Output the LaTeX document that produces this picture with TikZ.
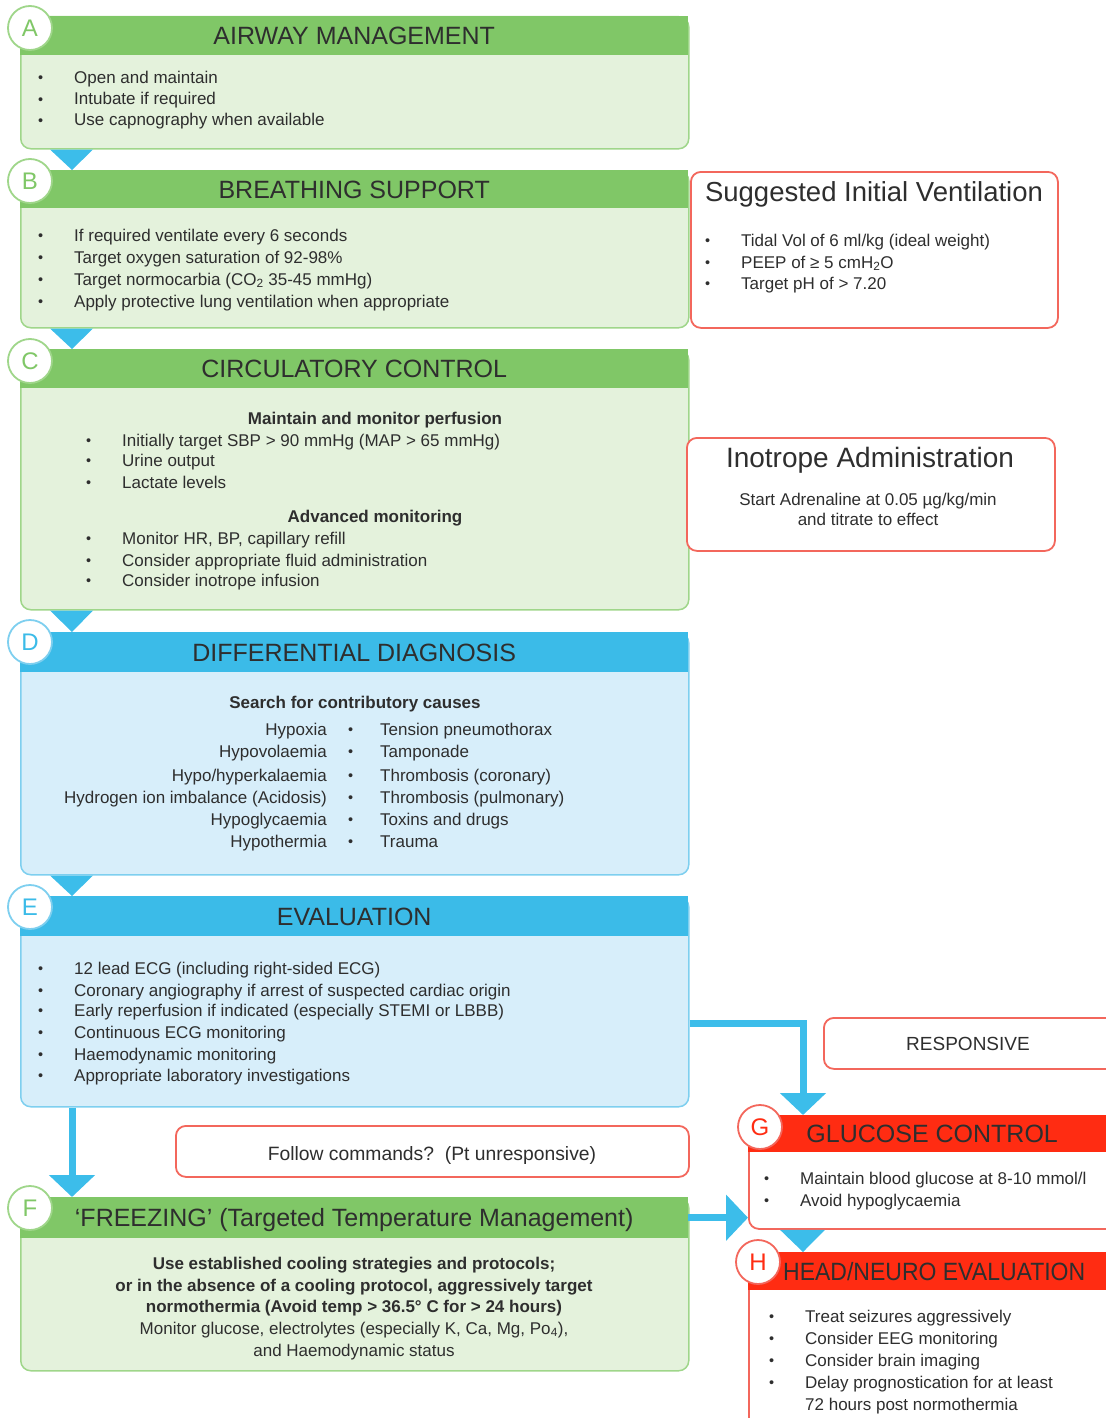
\documentclass[tikz,border=0pt]{standalone}
\usepackage{fontspec}
\setmainfont{Liberation Sans}
\usepackage{graphicx}
\usetikzlibrary{arrows.meta,calc}
\definecolor{ghead}{HTML}{80C767}
\definecolor{gbody}{HTML}{E4F2DC}
\definecolor{gline}{HTML}{9FD68A}
\definecolor{bhead}{HTML}{3BBBE8}
\definecolor{bbody}{HTML}{D7EEFA}
\definecolor{bline}{HTML}{7ECFEF}
\definecolor{rhead}{HTML}{FF2C12}
\definecolor{rline}{HTML}{F3675C}
\definecolor{txt}{HTML}{2E2E2E}
\definecolor{flow}{HTML}{3CBDEA}
\newcommand\myfs[1]{\fontsize{#1}{#1}\selectfont}
\newcommand\mybul[1]{\makebox[#1][l]{\raisebox{1pt}{\scalebox{0.85}{\textbullet}}}}
\newcommand\li[4]{\node[li] (#1) at (#2,{#3+6}) {\mybul{36pt}#4};}
\begin{document}
\begin{tikzpicture}[x=1pt,y=-1pt,
  box/.style={anchor=north west, inner sep=0pt, line width=1.5pt, rounded corners=10pt},
  gbox/.style={box, draw=gline, fill=gbody},
  bbox/.style={box, draw=bline, fill=bbody},
  rbox/.style={box, draw=rline, fill=white, line width=1.8pt},
  hd/.style={anchor=north west, inner sep=0pt, text=txt, font=\myfs{25}, text height=18pt, text depth=0pt},
  ghd/.style={hd, fill=ghead},
  bhd/.style={hd, fill=bhead},
  rhd/.style={hd, fill=rhead},
  circ/.style={circle, fill=white, line width=1.8pt, minimum size=44pt, inner sep=0pt, font=\myfs{24}},
  gcirc/.style={circ, draw=gline, text=ghead},
  bcirc/.style={circ, draw=bline, text=bhead},
  rcirc/.style={circ, draw=rline, text=rhead},
  li/.style={anchor=base west, inner sep=0pt, text=txt, font=\myfs{17}},
  lir/.style={anchor=base east, inner sep=0pt, text=txt, font=\myfs{17}},
  ct/.style={anchor=base, inner sep=0pt, text=txt, font=\myfs{17}},
  ctb/.style={anchor=base, inner sep=0pt, text=txt, font=\myfs{17}\bfseries},
  tri/.style={fill=flow},
  conn/.style={draw=flow, line width=7pt, -{Triangle[width=45pt,length=22pt]}}
]
\useasboundingbox (0,0) rectangle (1105,1418);

% ---------- A ----------
\node[gbox, minimum width=668pt, minimum height=132pt] (A) at (20,16) {};
\node[ghd, minimum width=668pt, minimum height=39pt] (Ah) at (20,16) {AIRWAY MANAGEMENT};
\node[gcirc] (cA) at (30,28) {A};
\li{a1}{38}{78}{Open and maintain}
\li{a2}{38}{99}{Intubate if required}
\li{a3}{38}{120}{Use capnography when available}

% ---------- B ----------
\node[gbox, minimum width=668pt, minimum height=157pt] (B) at (20,170) {};
\node[ghd, minimum width=668pt, minimum height=38pt] (Bh) at (20,170) {BREATHING SUPPORT};
\node[gcirc] (cB) at (30,181) {B};
\li{b1}{38}{235}{If required ventilate every 6 seconds}
\li{b2}{38}{257}{Target oxygen saturation of 92-98\%}
\li{b3}{38}{279}{Target normocarbia (CO\textsubscript{2} 35-45 mmHg)}
\li{b4}{38}{301}{Apply protective lung ventilation when appropriate}

% ---------- C ----------
\node[gbox, minimum width=668pt, minimum height=260pt] (C) at (20,349) {};
\node[ghd, minimum width=668pt, minimum height=39pt] (Ch) at (20,349) {CIRCULATORY CONTROL};
\node[gcirc] (cC) at (30,361) {C};
\node[ctb] (c0) at (375,424) {Maintain and monitor perfusion};
\li{c1}{86}{440}{Initially target SBP > 90 mmHg (MAP > 65 mmHg)}
\li{c2}{86}{460}{Urine output}
\li{c3}{86}{482}{Lactate levels}
\node[ctb] (c4) at (375,522) {Advanced monitoring};
\li{c5}{86}{538}{Monitor HR, BP, capillary refill}
\li{c6}{86}{560}{Consider appropriate fluid administration}
\li{c7}{86}{580}{Consider inotrope infusion}

% ---------- D ----------
\node[bbox, minimum width=668pt, minimum height=242pt] (D) at (20,632) {};
\node[bhd, minimum width=668pt, minimum height=40pt] (Dh) at (20,632) {DIFFERENTIAL DIAGNOSIS};
\node[bcirc] (cD) at (30,642) {D};
\node[ctb] (d0) at (355,708) {Search for contributory causes};
\node[lir] (dl1) at (327,735) {Hypoxia};
\node[lir] (dl2) at (327,757) {Hypovolaemia};
\node[lir] (dl3) at (327,781) {Hypo/hyperkalaemia};
\node[lir] (dl4) at (327,803) {Hydrogen ion imbalance (Acidosis)};
\node[lir] (dl5) at (327,825) {Hypoglycaemia};
\node[lir] (dl6) at (327,847) {Hypothermia};
\node[li] (dr1) at (348,735) {\mybul{32pt}Tension pneumothorax};
\node[li] (dr2) at (348,757) {\mybul{32pt}Tamponade};
\node[li] (dr3) at (348,781) {\mybul{32pt}Thrombosis (coronary)};
\node[li] (dr4) at (348,803) {\mybul{32pt}Thrombosis (pulmonary)};
\node[li] (dr5) at (348,825) {\mybul{32pt}Toxins and drugs};
\node[li] (dr6) at (348,847) {\mybul{32pt}Trauma};

% ---------- E ----------
\node[bbox, minimum width=668pt, minimum height=210pt] (E) at (20,896) {};
\node[bhd, minimum width=668pt, minimum height=40pt] (Eh) at (20,896) {EVALUATION};
\node[bcirc] (cE) at (30,907) {E};
\li{e1}{38}{968}{12 lead ECG (including right-sided ECG)}
\li{e2}{38}{990}{Coronary angiography if arrest of suspected cardiac origin}
\li{e3}{38}{1010}{Early reperfusion if indicated (especially STEMI or LBBB)}
\li{e4}{38}{1032}{Continuous ECG monitoring}
\li{e5}{38}{1054}{Haemodynamic monitoring}
\li{e6}{38}{1075}{Appropriate laboratory investigations}

% ---------- F ----------
\node[gbox, minimum width=668pt, minimum height=173pt] (F) at (20,1197) {};
\node[ghd, minimum width=668pt, minimum height=41pt] (Fh) at (20,1197) {‘FREEZING’ (Targeted Temperature Management)};
\node[gcirc] (cF) at (30,1208) {F};
\node[ctb] (f1) at (354,1269) {Use established cooling strategies and protocols;};
\node[ctb] (f2) at (354,1291) {or in the absence of a cooling protocol, aggressively target};
\node[ctb] (f3) at (354,1312) {normothermia (Avoid temp > 36.5° C for > 24 hours)};
\node[ct] (f4) at (354,1334) {Monitor glucose, electrolytes (especially K, Ca, Mg, Po\textsubscript{4}),};
\node[ct] (f5) at (354,1356) {and Haemodynamic status};

% ---------- G ----------
\node[rbox, minimum width=380pt, minimum height=113pt] (G) at (748,1115) {};
\node[rhd, minimum width=380pt, minimum height=37pt] (Gh) at (748,1115) {\hspace{-12pt}GLUCOSE CONTROL};
\node[rcirc] (cG) at (760,1127) {G};
\li{g1}{764}{1178}{Maintain blood glucose at 8-10 mmol/l}
\li{g2}{764}{1200}{Avoid hypoglycaemia}

% ---------- H ----------
\node[rbox, minimum width=380pt, minimum height=190pt] (H) at (748,1252) {};
\node[rhd, minimum width=380pt, minimum height=38pt] (Hh) at (748,1252) {\hspace{-8pt}\scalebox{0.92}[1]{HEAD/NEURO EVALUATION}};
\node[rcirc] (cH) at (758,1262) {H};
\li{h1}{769}{1316}{Treat seizures aggressively}
\li{h2}{769}{1338}{Consider EEG monitoring}
\li{h3}{769}{1360}{Consider brain imaging}
\li{h4}{769}{1382}{Delay prognostication for at least}
\node[li] (h5) at (805,1410) {72 hours post normothermia};

% ---------- side boxes ----------
\node[rbox, minimum width=367pt, minimum height=156pt] (SIV) at (690,171) {};
\node[anchor=base, inner sep=0pt, text=txt, font=\myfs{27.5}] (sivt) at (874,201) {Suggested Initial Ventilation};
\li{s1}{705}{240}{Tidal Vol of 6 ml/kg (ideal weight)}
\li{s2}{705}{262}{PEEP of ≥ 5 cmH\textsubscript{2}O}
\li{s3}{705}{283}{Target pH of > 7.20}

\node[rbox, minimum width=368pt, minimum height=113pt] (INO) at (686,437) {};
\node[anchor=base, inner sep=0pt, text=txt, font=\myfs{28}] (inot) at (870,467) {Inotrope Administration};
\node[ct] (ino1) at (868,505) {Start Adrenaline at 0.05 µg/kg/min};
\node[ct] (ino2) at (868,525) {and titrate to effect};

\node[rbox, minimum width=300pt, minimum height=51pt] (RESP) at (823,1017) {};
\node[anchor=base, inner sep=0pt, text=txt, font=\myfs{19}] (respt) at (968,1050) {RESPONSIVE};

\node[rbox, minimum width=513pt, minimum height=51pt] (FOL) at (175,1125) {};
\node[anchor=base, inner sep=0pt, text=txt, font=\myfs{19.3}] (folt) at (432,1160) {Follow commands?\ \ (Pt unresponsive)};

% ---------- flow triangles ----------
\fill[tri] ([xshift=30pt]A.south west) -- ([xshift=73pt]A.south west) -- ([xshift=52pt]Bh.north west) -- cycle;
\fill[tri] ([xshift=30pt]B.south west) -- ([xshift=73pt]B.south west) -- ([xshift=52pt]Ch.north west) -- cycle;
\fill[tri] ([xshift=30pt]C.south west) -- ([xshift=73pt]C.south west) -- ([xshift=52pt]Dh.north west) -- cycle;
\fill[tri] ([xshift=30pt]D.south west) -- ([xshift=73pt]D.south west) -- ([xshift=52pt]Eh.north west) -- cycle;
\fill[tri] ([xshift=32pt]G.south west) -- ([xshift=77pt]G.south west) -- ([xshift=55pt]Hh.north west) -- cycle;

% ---------- connectors ----------
\draw[conn] ([xshift=52pt]E.south west) -- ([xshift=52pt]Fh.north west);
\draw[conn] ([yshift=-22pt]E.east) -| ([xshift=55pt]G.north west);
\draw[conn] (Fh.east) -- (Fh.east -| G.west);
\end{tikzpicture}
\end{document}
